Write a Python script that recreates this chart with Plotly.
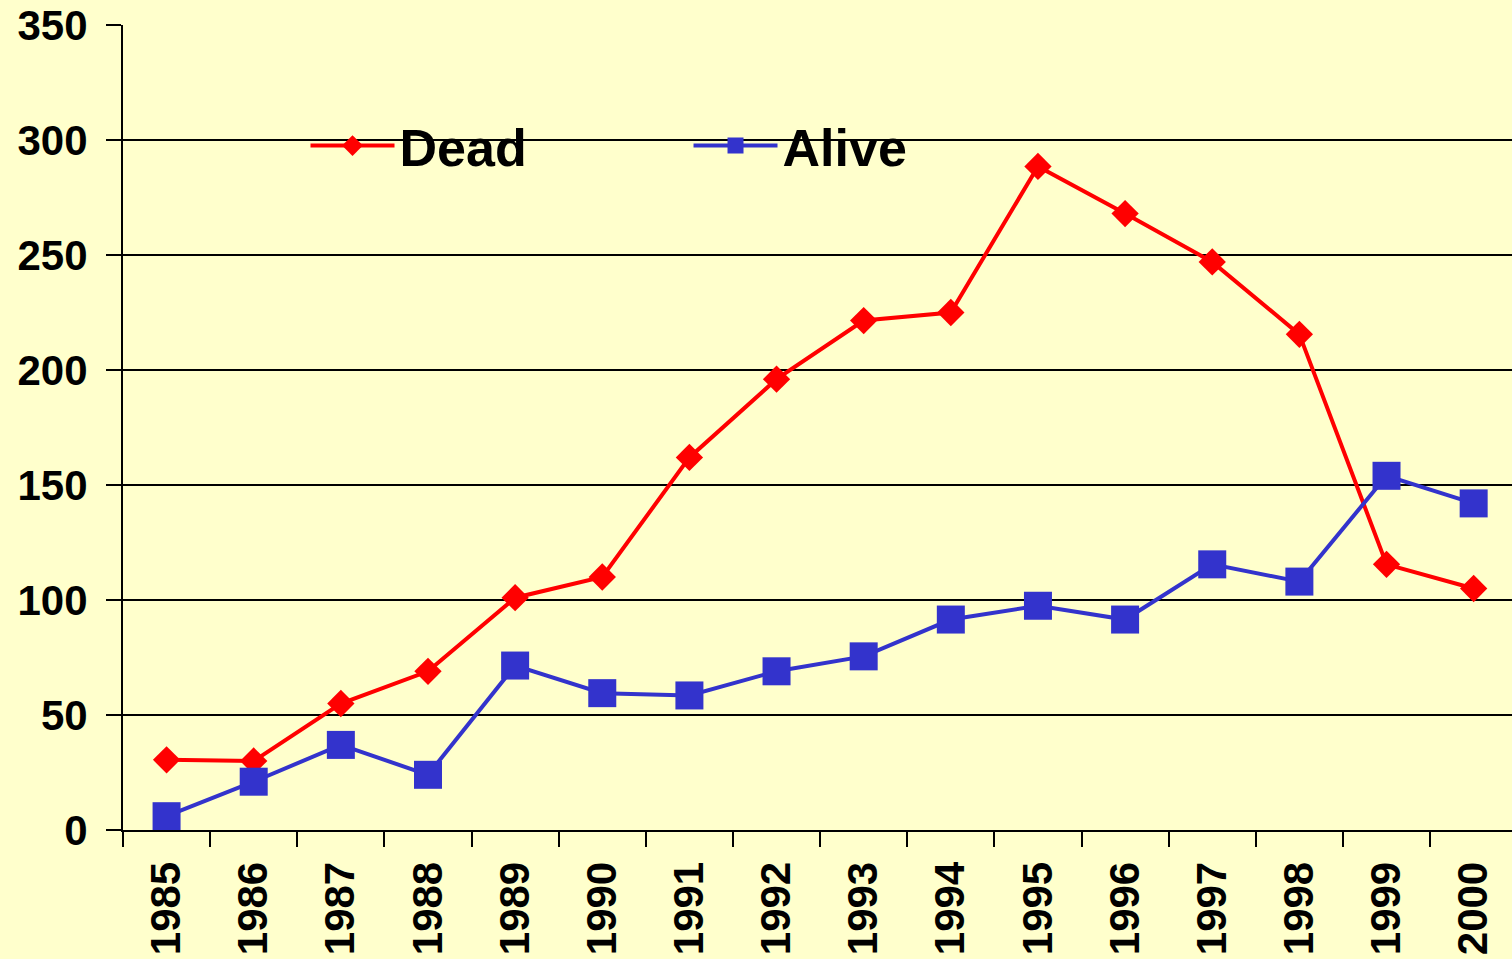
import plotly.graph_objects as go

years = [str(y) for y in range(1985, 2001)]
dead = [30.5, 30, 55, 69, 101, 110, 162, 196, 221.5, 225, 288.5, 268, 247, 215.5, 115.5, 105]
alive = [6, 21, 37, 24, 71.5, 59.5, 58.5, 69, 75.5, 91.5, 97.5, 91.5, 115.5, 108, 154, 142]

font = "Liberation Sans, Arial, sans-serif"
bg = "#FFFFCC"

fig = go.Figure()
fig.add_trace(go.Scatter(x=years, y=dead, name="Dead", mode="lines+markers",
                         line=dict(color="#FF0000", width=4),
                         marker=dict(symbol="diamond", size=21, color="#FF0000")))
fig.add_trace(go.Scatter(x=years, y=alive, name="Alive", mode="lines+markers",
                         line=dict(color="#3333CC", width=4),
                         marker=dict(symbol="square", size=28, color="#3333CC")))

fig.update_layout(
    width=1512, height=959,
    paper_bgcolor=bg, plot_bgcolor=bg,
    margin=dict(l=123, r=0, t=25, b=129),
    font=dict(family=font, size=42, color="black"),
    legend=dict(orientation="h", x=0.1314, y=0.85, xanchor="left", yanchor="middle",
                bgcolor="rgba(0,0,0,0)", itemwidth=84, entrywidth=284,
                font=dict(size=52, family=font, weight="bold")),
)
fig.update_xaxes(type="category", range=[-0.5, 15.44], tickson="boundaries",
                 ticks="outside", ticklen=15, tickwidth=2, tickcolor="black",
                 tickangle=-90, showline=True, linecolor="black", linewidth=2,
                 showgrid=False, tickfont=dict(size=42, weight="bold"),
                 ticklabelstandoff=13)
fig.update_yaxes(range=[0, 350], dtick=50, ticks="outside", ticklen=15, tickwidth=2,
                 tickcolor="black", showline=True, linecolor="black", linewidth=2,
                 showgrid=True, gridcolor="black", gridwidth=1.5, zeroline=False,
                 tickfont=dict(size=42, weight="bold"), ticklabelstandoff=10)

fig.write_html("out.html", config={"displayModeBar": False},
               post_script="document.body.style.margin='0';")
